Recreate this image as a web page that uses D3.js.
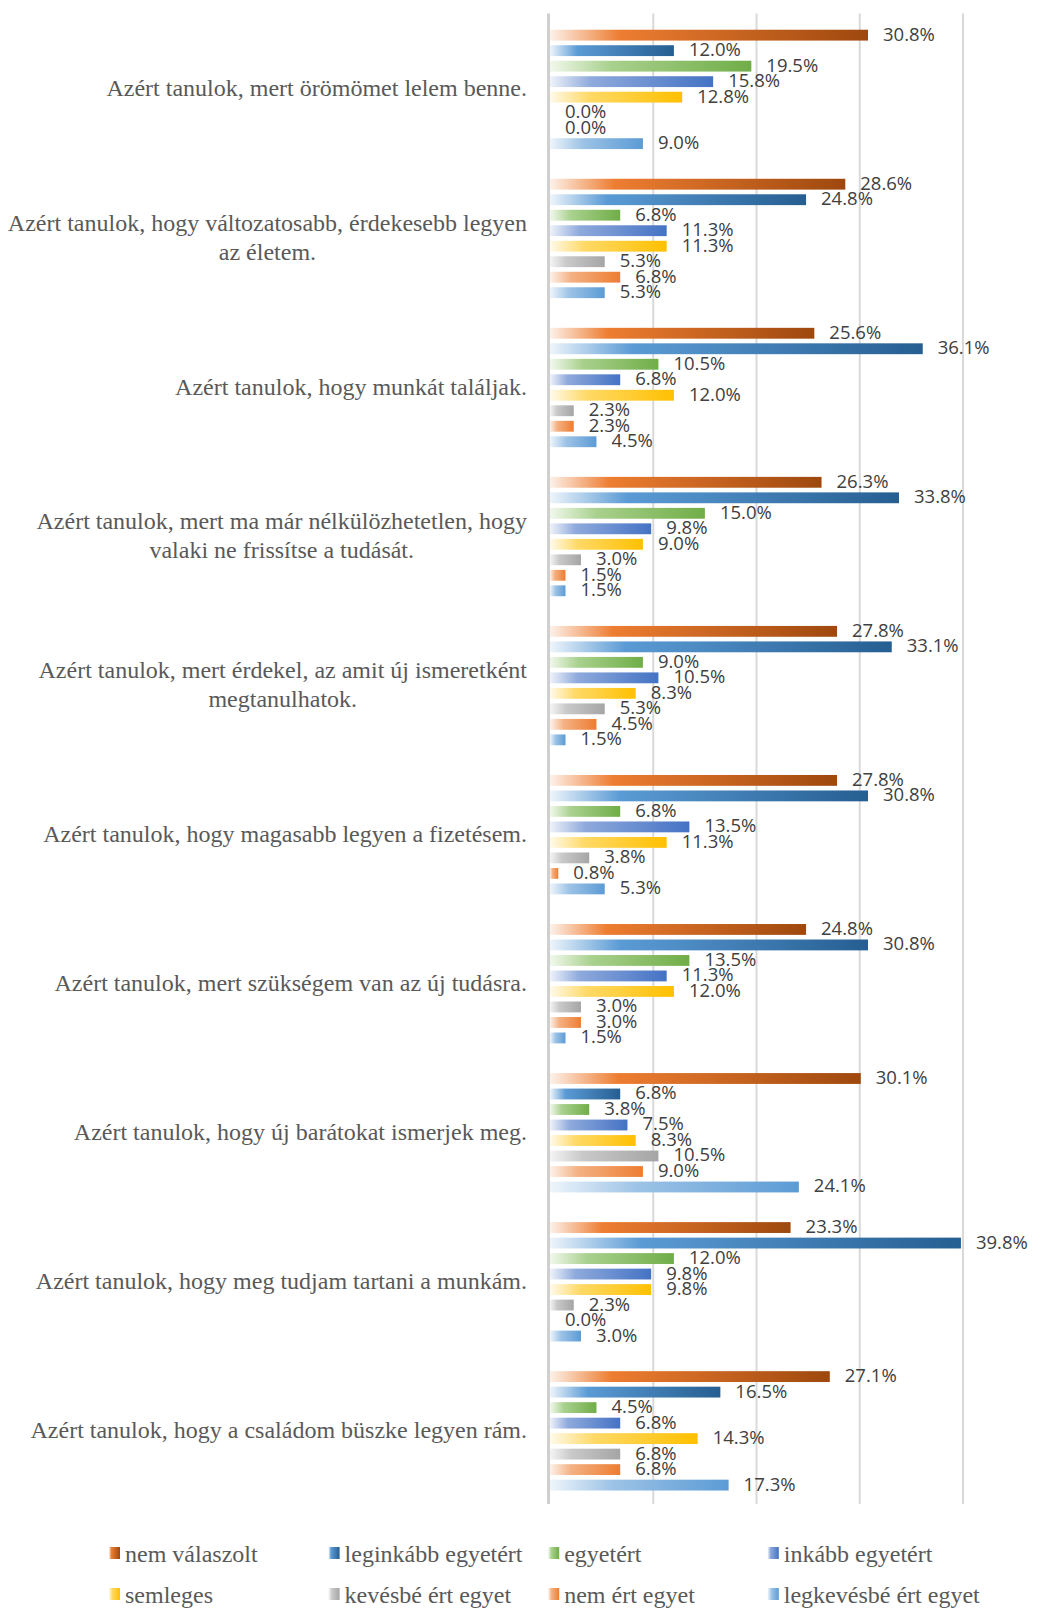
<!DOCTYPE html>
<html>
<head>
<meta charset="utf-8">
<script src="https://cdn.jsdelivr.net/npm/d3@7"></script>
<style>
  body { margin: 0; background: #fff; }
  svg { display: block; }
</style>
</head>
<body>
<script>
// kategóriák (felülről lefelé)
var categories = [
  "Azért tanulok, mert örömömet lelem benne.",
  "Azért tanulok, hogy változatosabb, érdekesebb legyen az életem.",
  "Azért tanulok, hogy munkát találjak.",
  "Azért tanulok, mert ma már nélkülözhetetlen, hogy valaki ne frissítse a tudását.",
  "Azért tanulok, mert érdekel, az amit új ismeretként megtanulhatok.",
  "Azért tanulok, hogy magasabb legyen a fizetésem.",
  "Azért tanulok, mert szükségem van az új tudásra.",
  "Azért tanulok, hogy új barátokat ismerjek meg.",
  "Azért tanulok, hogy meg tudjam tartani a munkám.",
  "Azért tanulok, hogy a családom büszke legyen rám."
];

var seriesNames = ["nem válaszolt", "leginkább egyetért", "egyetért", "inkább egyetért",
                   "semleges", "kevésbé ért egyet", "nem ért egyet", "legkevésbé ért egyet"];

var nemValaszolt   = [30.8, 28.6, 25.6, 26.3, 27.8, 27.8, 24.8, 30.1, 23.3, 27.1];
var leginkabb      = [12.0, 24.8, 36.1, 33.8, 33.1, 30.8, 30.8,  6.8, 39.8, 16.5];
var egyetert       = [19.5,  6.8, 10.5, 15.0,  9.0,  6.8, 13.5,  3.8, 12.0,  4.5];
var inkabb         = [15.8, 11.3,  6.8,  9.8, 10.5, 13.5, 11.3,  7.5,  9.8,  6.8];
var semleges       = [12.8, 11.3, 12.0,  9.0,  8.3, 11.3, 12.0,  8.3,  9.8, 14.3];
var kevesbe        = [ 0.0,  5.3,  2.3,  3.0,  5.3,  3.8,  3.0, 10.5,  2.3,  6.8];
var nemErt         = [ 0.0,  6.8,  2.3,  1.5,  4.5,  0.8,  3.0,  9.0,  0.0,  6.8];
var legkevesbe     = [ 9.0,  5.3,  4.5,  1.5,  1.5,  5.3,  1.5, 24.1,  3.0, 17.3];

var seriesValues = [nemValaszolt, leginkabb, egyetert, inkabb, semleges, kevesbe, nemErt, legkevesbe];

var xTicks = [0, 10, 20, 30, 40];

// színátmenetek: [világos, közép, sötét]
var gradStops = [
  ["#fdf1e9", "#ed7d31", "#9e480e"],
  ["#eef5fb", "#5b9bd5", "#255e91"],
  ["#f1f8ec", "#a9d18e", "#70ad47"],
  ["#eef2fa", "#8faadc", "#4472c4"],
  ["#fffaea", "#ffd966", "#ffc000"],
  ["#f4f4f4", "#c9c9c9", "#a5a5a5"],
  ["#fdf1e9", "#f4b183", "#ed7d31"],
  ["#eef5fb", "#9dc3e6", "#5b9bd5"]
];
var midOffset = ["22%", "22%", "30%", "25%", "30%", "30%", "30%", "35%"];

var width = 1059, height = 1624;
var plotTop = 13.5, plotBottom = 1504;

var svg = d3.select("body").append("svg")
  .attr("width", width).attr("height", height);

var defs = svg.append("defs");
seriesNames.forEach(function(s, i) {
  var g = defs.append("linearGradient").attr("id", "grad" + i)
    .attr("x1", "0%").attr("x2", "100%").attr("y1", "0%").attr("y2", "0%");
  g.append("stop").attr("offset", "0%").attr("stop-color", gradStops[i][0]);
  g.append("stop").attr("offset", midOffset[i]).attr("stop-color", gradStops[i][1]);
  g.append("stop").attr("offset", "100%").attr("stop-color", gradStops[i][2]);
});

var x = d3.scaleLinear().domain([0, 40]).range([550, 963]);

var y0 = d3.scaleBand().domain(categories).range([plotTop, plotBottom]);
var y1 = d3.scaleBand().domain(d3.range(seriesNames.length))
  .range([13.9, 137.9]).paddingInner(0.3).paddingOuter(0.15);

// rácsvonalak
svg.append("g").selectAll("line")
  .data(xTicks.slice(1))
  .enter().append("line")
  .attr("x1", function(d) { return x(d); })
  .attr("x2", function(d) { return x(d); })
  .attr("y1", plotTop).attr("y2", plotBottom)
  .attr("stroke", "#d9d9d9").attr("stroke-width", 2);

// tengely
svg.append("line")
  .attr("x1", x(0) - 1.5).attr("x2", x(0) - 1.5)
  .attr("y1", plotTop).attr("y2", plotBottom)
  .attr("stroke", "#cfcfcf").attr("stroke-width", 3);

var fmt = d3.format(".1f");

var groups = svg.append("g").selectAll("g")
  .data(categories)
  .enter().append("g")
  .attr("transform", function(d) { return "translate(0," + y0(d) + ")"; });

groups.each(function(cat, ci) {
  var g = d3.select(this);
  var rows = seriesValues.map(function(arr, si) { return { s: si, v: arr[ci] }; });

  g.selectAll("rect").data(rows).enter().append("rect")
    .attr("x", x(0))
    .attr("y", function(d) { return y1(d.s); })
    .attr("width", function(d) { return x(d.v) - x(0); })
    .attr("height", y1.bandwidth())
    .attr("fill", function(d) { return "url(#grad" + d.s + ")"; });

  g.selectAll("text").data(rows).enter().append("text")
    .attr("x", function(d) { return x(d.v) + 15; })
    .attr("y", function(d) { return y1(d.s) + y1.bandwidth() / 2 - 1; })
    .attr("dy", "0.35em")
    .attr("font-family", "'Open Sans', sans-serif")
    .attr("font-size", "18.5px")
    .attr("fill", "#404040")
    .text(function(d) { return fmt(d.v) + "%"; });
});

// kategória feliratok, tördelve
var labelRight = 527, maxW = 530, lineH = 28.5;
categories.forEach(function(cat) {
  var t = svg.append("text")
    .attr("font-family", "'Liberation Serif', 'Times New Roman', serif")
    .attr("font-size", "24px")
    .attr("fill", "#595959")
    .attr("text-anchor", "middle");
  var words = cat.split(" "), lines = [], line = [];
  var probe = t.append("tspan");
  words.forEach(function(w) {
    line.push(w);
    probe.text(line.join(" "));
    if (probe.node().getComputedTextLength() > maxW && line.length > 1) {
      line.pop();
      lines.push(line.join(" "));
      line = [w];
    }
  });
  lines.push(line.join(" "));
  var widest = 0;
  lines.forEach(function(l) {
    probe.text(l);
    widest = Math.max(widest, probe.node().getComputedTextLength());
  });
  probe.remove();
  var cy = y0(cat) + y0.bandwidth() / 2;
  var cx = labelRight - widest / 2;
  lines.forEach(function(l, i) {
    t.append("tspan")
      .attr("x", cx)
      .attr("y", cy + (i - (lines.length - 1) / 2) * lineH)
      .attr("dy", "0.35em")
      .text(l);
  });
});

// jelmagyarázat
var legend = svg.append("g").selectAll("g")
  .data(seriesNames)
  .enter().append("g")
  .attr("transform", function(d, i) {
    return "translate(" + (109 + (i % 4) * 219.6) + "," + (1553 + Math.floor(i / 4) * 41) + ")";
  });
legend.append("rect")
  .attr("x", 0).attr("y", -6).attr("width", 11).attr("height", 12)
  .attr("fill", function(d, i) { return "url(#grad" + i + ")"; });
legend.append("text")
  .attr("x", 16).attr("y", 0).attr("dy", "0.36em")
  .attr("font-family", "'Liberation Serif', 'Times New Roman', serif")
  .attr("font-size", "24px")
  .attr("fill", "#595959")
  .text(function(d) { return d; });
</script>
</body>
</html>
